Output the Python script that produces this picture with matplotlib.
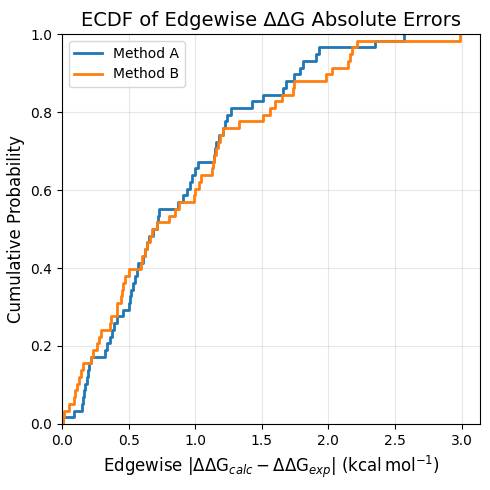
import numpy as np
import matplotlib
matplotlib.use('Agg')
import matplotlib.pyplot as plt

# absolute errors per edge (58 edges)
method_a = [0.01, 0.09, 0.148, 0.155, 0.165, 0.175, 0.185, 0.195, 0.205, 0.22,
            0.323, 0.34, 0.36, 0.375, 0.39, 0.41, 0.46, 0.505, 0.51, 0.515,
            0.53, 0.55, 0.56, 0.57, 0.61, 0.625, 0.64, 0.65, 0.68, 0.71,
            0.72, 0.73, 0.87, 0.91, 0.94, 0.96, 0.975, 1.0, 1.02, 1.14,
            1.15, 1.16, 1.18, 1.21, 1.225, 1.24, 1.27, 1.43, 1.51, 1.66,
            1.68, 1.74, 1.79, 1.81, 1.91, 1.93, 2.35, 2.57]
method_b = [0.005, 0.015, 0.053, 0.09, 0.10, 0.11, 0.125, 0.14, 0.158, 0.22,
            0.235, 0.26, 0.28, 0.29, 0.36, 0.365, 0.41, 0.415, 0.445, 0.45,
            0.46, 0.47, 0.506, 0.59, 0.60, 0.62, 0.64, 0.66, 0.675, 0.71,
            0.80, 0.85, 0.875, 0.99, 1.0, 1.025, 1.045, 1.125, 1.135, 1.145,
            1.155, 1.17, 1.19, 1.21, 1.33, 1.51, 1.56, 1.6, 1.65, 1.735,
            1.74, 1.98, 2.03, 2.15, 2.16, 2.18, 2.215, 2.99]


def ecdf(vals):
    x = np.sort(np.asarray(vals))
    y = np.arange(1, len(x) + 1) / len(x)
    return np.concatenate([[x[0]], x]), np.concatenate([[0.0], y])


fig, ax = plt.subplots(figsize=(4.9, 4.9), dpi=100)

xa, ya = ecdf(method_a)
xb, yb = ecdf(method_b)
ax.step(xa, ya, where='post', lw=2, label='Method A')
ax.step(xb, yb, where='post', lw=2, label='Method B')

ax.set_xlim(0, 3.14)
ax.set_ylim(0, 1)
ax.grid(alpha=0.3)
ax.set_title('ECDF of Edgewise ΔΔG Absolute Errors', fontsize=14)
ax.set_xlabel(r'Edgewise $|\Delta\Delta\mathrm{G}_{calc} - \Delta\Delta\mathrm{G}_{exp}|$ ($\mathrm{kcal\,mol^{-1}}$)',
              fontsize=12)
ax.set_ylabel('Cumulative Probability', fontsize=12)
ax.legend(loc='upper left')

fig.subplots_adjust(left=0.1265, right=0.98, top=0.9306, bottom=0.1347)
fig.savefig('out.png')
